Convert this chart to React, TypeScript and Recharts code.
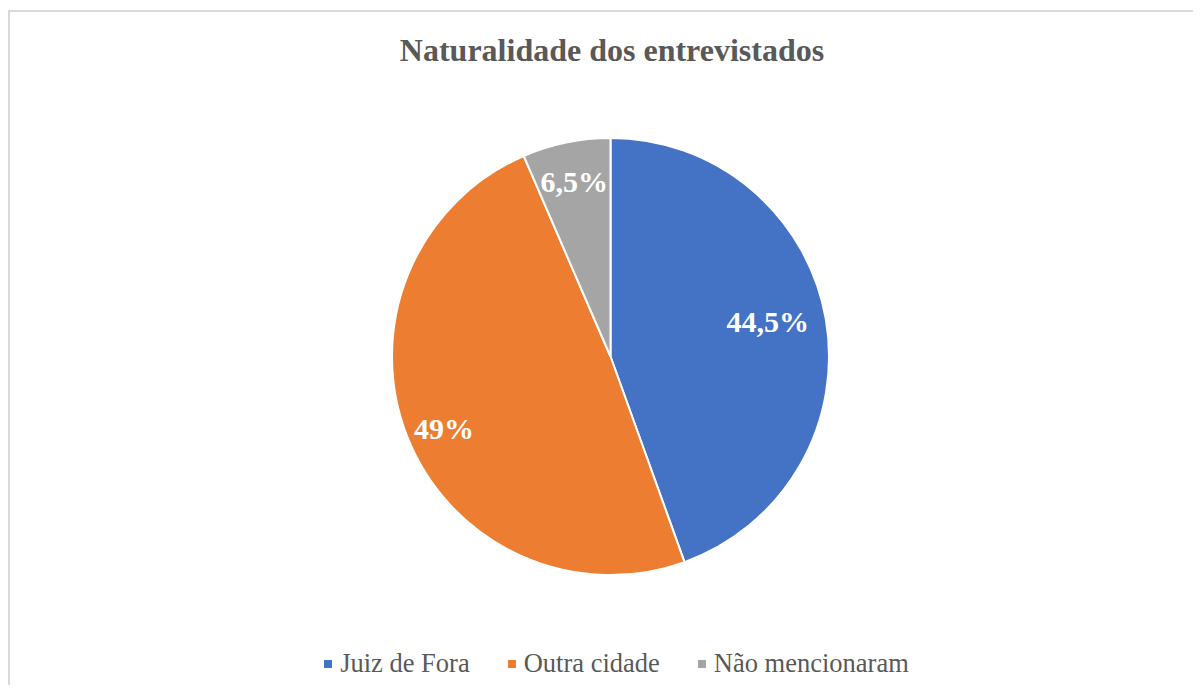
import React from "react";
import { PieChart, Pie, Cell, Legend } from "recharts";

const categories = ["Juiz de Fora", "Outra cidade", "Não mencionaram"];
const values = [44.5, 49, 6.5];
const valueLabels = ["44,5%", "49%", "6,5%"];
const colors = ["#4472C4", "#ED7D31", "#A5A5A5"];
const title = "Naturalidade dos entrevistados";

const data = categories.map((name, i) => ({ name, value: values[i], label: valueLabels[i] }));

const SERIF = "'Liberation Serif', 'Times New Roman', 'DejaVu Serif', serif";
const RAD = Math.PI / 180;
const labelFactors = [0.73, 0.82, 0.82];
const labelNudgeY = [-8, 6, 0];

const renderLabel = (props: any) => {
  const { cx, cy, midAngle, outerRadius, index } = props;
  const r = outerRadius * labelFactors[index];
  const x = cx + r * Math.cos(-midAngle * RAD);
  const y = cy + r * Math.sin(-midAngle * RAD) + labelNudgeY[index];
  return (
    <text
      x={x}
      y={y}
      fill="#FFFFFF"
      textAnchor="middle"
      dominantBaseline="central"
      style={{ fontFamily: SERIF, fontWeight: "bold", fontSize: 30 }}
    >
      {data[index].label}
    </text>
  );
};

const renderLegend = () => (
  <div
    style={{
      display: "flex",
      justifyContent: "center",
      alignItems: "center",
      fontFamily: SERIF,
      fontSize: 26.5,
      color: "#595959",
      paddingLeft: 9,
    }}
  >
    {categories.map((c, i) => (
      <div key={c} style={{ display: "flex", alignItems: "center", marginRight: i < categories.length - 1 ? 38 : 0 }}>
        <span style={{ display: "inline-block", width: 8, height: 8, background: colors[i], marginRight: 8 }} />
        <span>{c}</span>
      </div>
    ))}
  </div>
);

export default function App() {
  return (
    <div
      style={{
        position: "relative",
        marginTop: 2,
        width: 1191,
        height: 673,
        borderTop: "2px solid #D9D9D9",
        borderLeft: "2px solid #D9D9D9",
        background: "#FFFFFF",
      }}
    >
      <div
        style={{
          position: "absolute",
          top: 20,
          left: 0,
          width: 1204,
          textAlign: "center",
          fontFamily: SERIF,
          fontWeight: "bold",
          fontSize: 32,
          color: "#595959",
          lineHeight: "36px",
        }}
      >
        {title}
      </div>
      <PieChart width={1191} height={673}>
        <Pie
          data={data}
          dataKey="value"
          nameKey="name"
          cx={595.5}
          cy={339.5}
          outerRadius={218.5}
          startAngle={90}
          endAngle={-270}
          stroke="#FFFFFF"
          strokeWidth={2}
          label={renderLabel}
          labelLine={false}
          isAnimationActive={false}
        >
          {data.map((d, i) => (
            <Cell key={d.name} fill={colors[i]} />
          ))}
        </Pie>
        <Legend
          content={renderLegend}
          verticalAlign="bottom"
          wrapperStyle={{ position: "absolute", top: 636, left: 0, width: 1204 }}
        />
      </PieChart>
    </div>
  );
}
